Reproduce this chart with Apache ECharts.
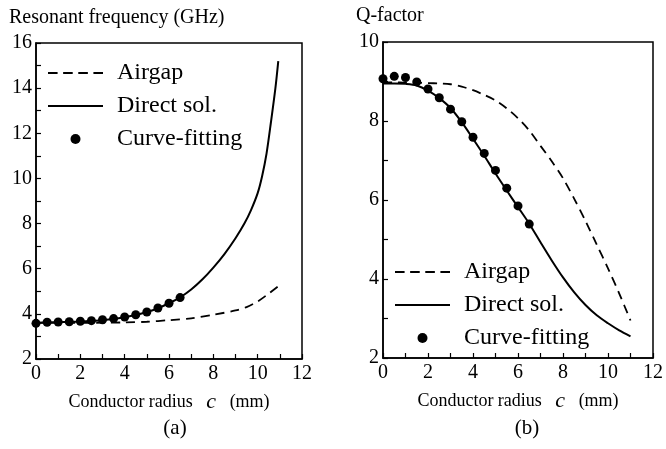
<!DOCTYPE html>
<html>
<head>
<meta charset="utf-8">
<script src="https://cdn.jsdelivr.net/npm/echarts@6/dist/echarts.min.js"></script>
<style>
html,body{margin:0;padding:0;background:#fff;}
#chart{width:666px;height:449px;}
</style>
</head>
<body>
<div id="chart"></div>
<script>
// ---- data ----
const xFit = [0,0.5,1,1.5,2,2.5,3,3.5,4,4.5,5,5.5,6,6.5];
const freqFit = [3.58,3.63,3.64,3.65,3.67,3.70,3.74,3.79,3.86,3.96,4.08,4.26,4.47,4.72];
const qFit = [9.07,9.13,9.10,8.99,8.81,8.59,8.30,7.98,7.59,7.18,6.75,6.30,5.85,5.39];

const xFreqDirect = [0,0.5,1,1.5,2,2.5,3,3.5,4,4.5,5,5.5,6,6.5,7,7.5,8,8.5,9,9.4,9.7,10,10.2,10.4,10.6,10.8,10.93];
const freqDirect = [3.60,3.62,3.63,3.64,3.66,3.69,3.72,3.77,3.85,3.95,4.08,4.25,4.47,4.73,5.08,5.52,6.05,6.65,7.35,8.0,8.6,9.35,10.1,11.1,12.5,14.0,15.2];

const xFreqAir = [0,1,2,3,4,5,6,7,8,9,9.5,10,10.5,11];
const freqAir = [3.60,3.60,3.60,3.61,3.62,3.65,3.72,3.80,3.96,4.15,4.30,4.55,4.90,5.28];

const xQ = [0,0.5,1,1.5,2,2.5,3,3.5,4,4.5,5,5.5,6,6.5,7,7.5,8,8.5,9,9.5,10,10.5,11];
const qDirect = [8.95,8.95,8.94,8.90,8.77,8.58,8.33,7.97,7.55,7.12,6.67,6.24,5.82,5.40,4.93,4.47,4.04,3.66,3.34,3.08,2.88,2.70,2.55];
const qAir = [8.98,8.98,8.97,8.97,8.96,8.95,8.93,8.87,8.78,8.66,8.52,8.32,8.07,7.76,7.37,6.98,6.55,6.03,5.47,4.87,4.27,3.63,2.95];

const seriesNames = ['Airgap','Direct sol.','Curve-fitting'];
const yTitles = ['Resonant frequency (GHz)','Q-factor'];
const panelLabels = ['(a)','(b)'];

// ---- helpers ----
const FONT = 'Liberation Serif';
const zip = (xs, ys) => xs.map((x,i)=>[x, ys[i]]);

const DASH_ICON = 'path://M0,0h9.5v2h-9.5z M15,0h9.5v2h-9.5z M30,0h9.5v2h-9.5z M45,0h9.5v2h-9.5z';
const SOLID_ICON = 'path://M0,0h55v2h-55z';

function xAxisCfg(gi){
  return {
    gridIndex: gi, type:'value', min:0, max:12, interval:2,
    axisLine:{show:true, onZero:false, lineStyle:{color:'#000', width:1.5}},
    axisTick:{show:true, inside:true, length:5, lineStyle:{color:'#000', width:1.2}},
    minorTick:{show:true, splitNumber:2, length:5, lineStyle:{color:'#000', width:1.2}},
    splitLine:{show:false},
    axisLabel:{color:'#000', fontFamily:FONT, fontSize:20, margin:5},
    name:'Conductor radius   {i|c}   (mm)',
    nameLocation:'middle', nameGap:32,
    nameTextStyle:{color:'#000', fontFamily:FONT, fontSize:18,
      rich:{i:{fontFamily:FONT, fontStyle:'italic', fontSize:22, color:'#000'}}}
  };
}
function yAxisCfg(gi, min, max){
  return {
    gridIndex: gi, type:'value', min:min, max:max, interval:2,
    axisLine:{show:true, onZero:false, lineStyle:{color:'#000', width:1.5}},
    axisTick:{show:true, inside:true, length:5, lineStyle:{color:'#000', width:1.2}},
    minorTick:{show:true, splitNumber:2, length:5, lineStyle:{color:'#000', width:1.2}},
    splitLine:{show:false},
    axisLabel:{color:'#000', fontFamily:FONT, fontSize:20, margin:4}
  };
}
function lineSeries(name, gi, data, dashed){
  return {
    name:name, type:'line', xAxisIndex:gi, yAxisIndex:gi, data:data,
    symbol:'none', smooth:0.3, color:'#000',
    lineStyle:{color:'#000', width:dashed?1.8:2, type: dashed ? [9,6] : 'solid'},
    z:3
  };
}
function scatterSeries(name, gi, data){
  return {
    name:name, type:'scatter', xAxisIndex:gi, yAxisIndex:gi, data:data,
    symbol:'circle', symbolSize:9, color:'#000', itemStyle:{color:'#000', opacity:1}, z:4
  };
}
function legendCfg(left, top){
  return {
    left:left, top:top, orient:'vertical', itemWidth:55, itemHeight:10, itemGap:9, padding:0,
    selectedMode:false,
    data:[
      {name:seriesNames[0], icon:DASH_ICON},
      {name:seriesNames[1], icon:SOLID_ICON},
      {name:seriesNames[2], icon:'circle'}
    ],
    itemStyle:{color:'#000', opacity:1, borderWidth:0},
    textStyle:{color:'#000', fontFamily:FONT, fontSize:24, padding:[0,0,0,9]}
  };
}

const chart = echarts.init(document.getElementById('chart'), null, {renderer:'canvas'});
chart.setOption({
  backgroundColor:'#fff',
  animation:false,
  grid:[
    {left:36, top:43, width:266, height:316, show:true, borderColor:'#000', borderWidth:1.5},
    {left:383, top:42, width:270, height:316, show:true, borderColor:'#000', borderWidth:1.5}
  ],
  xAxis:[xAxisCfg(0), xAxisCfg(1)],
  yAxis:[yAxisCfg(0,2,16), yAxisCfg(1,2,10)],
  legend:[legendCfg(48, 61), legendCfg(395, 260)],
  graphic:[
    {type:'text', x:9, y:18, style:{text:yTitles[0], fill:'#000', font:'20px "Liberation Serif"', textVerticalAlign:'middle'}},
    {type:'text', x:356, y:16, style:{text:yTitles[1], fill:'#000', font:'20px "Liberation Serif"', textVerticalAlign:'middle'}},
    {type:'text', x:175, y:428, style:{text:panelLabels[0], fill:'#000', font:'21px "Liberation Serif"', textAlign:'center', textVerticalAlign:'middle'}},
    {type:'text', x:527, y:428, style:{text:panelLabels[1], fill:'#000', font:'21px "Liberation Serif"', textAlign:'center', textVerticalAlign:'middle'}}
  ],
  series:[
    lineSeries(seriesNames[0], 0, zip(xFreqAir, freqAir), true),
    lineSeries(seriesNames[1], 0, zip(xFreqDirect, freqDirect), false),
    scatterSeries(seriesNames[2], 0, zip(xFit, freqFit)),
    lineSeries(seriesNames[0], 1, zip(xQ, qAir), true),
    lineSeries(seriesNames[1], 1, zip(xQ, qDirect), false),
    scatterSeries(seriesNames[2], 1, zip(xFit, qFit))
  ]
});
</script>
</body>
</html>
